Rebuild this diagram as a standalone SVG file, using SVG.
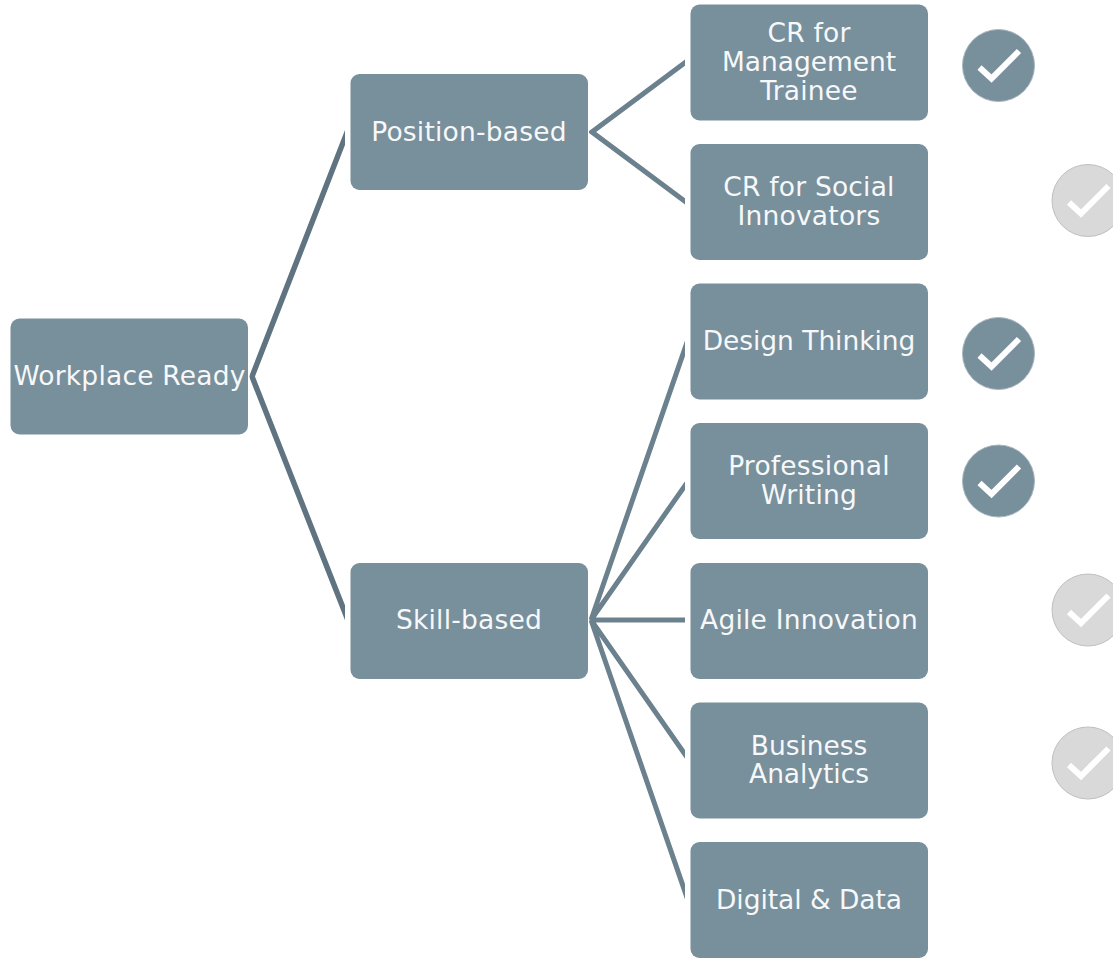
<svg xmlns="http://www.w3.org/2000/svg" width="1113" height="961" viewBox="0 0 1113 961">
<style>
.n{fill:#788f9c}
text{font-family:"DejaVu Sans",Verdana,sans-serif;font-size:26.5px;letter-spacing:.2px;fill:#f6f8f9;text-anchor:middle}
.t{letter-spacing:-.05px}
.c{fill:none;stroke-width:5;stroke-linecap:butt;stroke-linejoin:miter}
.a{fill:#788f9c;stroke:#a9b6be;stroke-width:1}
.g{fill:#d9d9d9;stroke:#bfbfbf;stroke-width:1}
.k{fill:none;stroke:#fff;stroke-width:6}
</style>
<defs>
<g id="ck"><path class="k" d="M-19 2L-7 13L20.500 -14.500"/></g>
<clipPath id="c1"><rect x="249.500" y="100" width="95.500" height="560"/></clipPath>
<clipPath id="c2"><rect x="589" y="0" width="96" height="961"/></clipPath>
</defs>
<rect width="1113" height="961" fill="#fff"/>
<g id="connectors" class="c">
<path clip-path="url(#c1)" stroke="#5f7480" stroke-width="5.500" d="M349 127.200L252 376.500L349 623"/>
<path clip-path="url(#c2)" stroke="#6b818e" d="M692 57.500L592 132L692 206.500"/>
<path clip-path="url(#c2)" stroke="#6b818e" d="M692 328L591 620L692 475.500M591 620H685M692 764.500L591 620L692 912"/>
</g>
<g id="n-root"><rect class="n" x="10.500" y="318.500" width="237.500" height="116" rx="9"/><text x="129.500" y="385">Workplace Ready</text></g>
<g id="n-pos"><rect class="n" x="350.500" y="74" width="237.500" height="116" rx="9"/><text x="469" y="140.500">Position-based</text></g>
<g id="n-skill"><rect class="n" x="350.500" y="563" width="237.500" height="116" rx="9"/><text x="469" y="629">Skill-based</text></g>
<g id="n-cr1"><rect class="n" x="690.500" y="4.500" width="237.500" height="116" rx="9"/><text x="809" y="42">CR for</text><text class="t" x="809" y="71">Management</text><text x="809" y="100">Trainee</text></g>
<g id="n-cr2"><rect class="n" x="690.500" y="144" width="237.500" height="116" rx="9"/><text x="809" y="196">CR for Social</text><text x="809" y="225">Innovators</text></g>
<g id="n-dt"><rect class="n" x="690.500" y="283.500" width="237.500" height="116" rx="9"/><text class="t" x="809" y="350">Design Thinking</text></g>
<g id="n-pw"><rect class="n" x="690.500" y="423" width="237.500" height="116" rx="9"/><text x="809" y="475">Professional</text><text x="809" y="504">Writing</text></g>
<g id="n-ai"><rect class="n" x="690.500" y="563" width="237.500" height="116" rx="9"/><text x="809" y="629">Agile Innovation</text></g>
<g id="n-ba"><rect class="n" x="690.500" y="702.500" width="237.500" height="116" rx="9"/><text class="t" x="809" y="755">Business</text><text class="t" x="809" y="783">Analytics</text></g>
<g id="n-dd"><rect class="n" x="690.500" y="842" width="237.500" height="116" rx="9"/><text class="t" x="809" y="909">Digital &amp; Data</text></g>
<g id="check-1"><circle class="a" cx="998.500" cy="65.500" r="36"/><use href="#ck" x="998.500" y="65.500"/></g>
<g id="check-2"><circle class="g" cx="1088" cy="200.500" r="36"/><use href="#ck" x="1088" y="200.500"/></g>
<g id="check-3"><circle class="a" cx="998.500" cy="353.500" r="36"/><use href="#ck" x="998.500" y="353.500"/></g>
<g id="check-4"><circle class="a" cx="998.500" cy="481" r="36"/><use href="#ck" x="998.500" y="481"/></g>
<g id="check-5"><circle class="g" cx="1088" cy="610" r="36"/><use href="#ck" x="1088" y="610"/></g>
<g id="check-6"><circle class="g" cx="1088" cy="763" r="36"/><use href="#ck" x="1088" y="763"/></g>
</svg>
